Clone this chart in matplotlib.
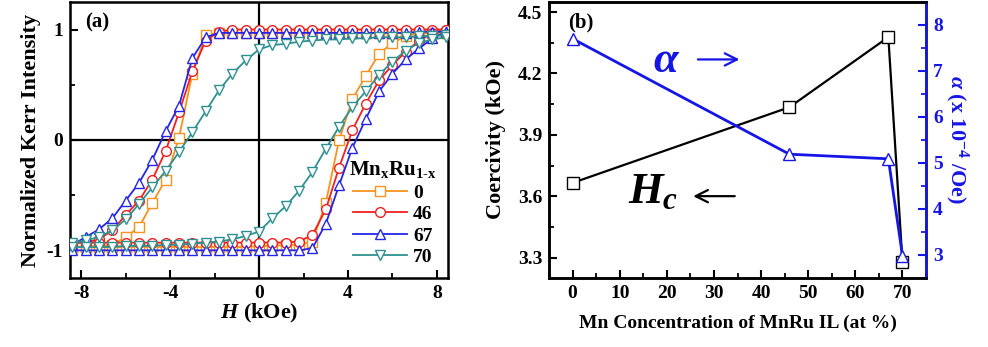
import numpy as np
import matplotlib
matplotlib.use("Agg")
import matplotlib.pyplot as plt
from matplotlib.ticker import MultipleLocator

plt.rcParams['font.family'] = ['Liberation Serif', 'DejaVu Serif']
plt.rcParams['font.weight'] = 'bold'
plt.rcParams['axes.labelweight'] = 'bold'
plt.rcParams['mathtext.fontset'] = 'custom'
plt.rcParams['mathtext.rm'] = 'Liberation Serif:bold'
plt.rcParams['mathtext.bf'] = 'Liberation Serif:bold'
plt.rcParams['mathtext.it'] = 'Liberation Serif:italic:bold'

# ---- panel (a): hysteresis loops ----
H = [-8.4, -7.8, -7.2, -6.6, -6.0, -5.4, -4.8, -4.2, -3.6, -3.0, -2.4, -1.8, -1.2, -0.6, 0.0,
     0.6, 1.2, 1.8, 2.4, 3.0, 3.6, 4.2, 4.8, 5.4, 6.0, 6.6, 7.2, 7.8, 8.4]

m0_down = [-0.97, -0.97, -0.96, -0.95, -0.88, -0.79, -0.57, -0.36, 0.02, 0.60, 0.95, 0.97, 0.97, 0.97, 0.97,
           0.97, 0.97, 0.97, 0.97, 0.97, 0.97, 0.97, 0.97, 0.97, 0.97, 0.97, 0.97, 0.97, 0.97]
m0_up = [-0.97, -0.97, -0.97, -0.97, -0.97, -0.97, -0.97, -0.97, -0.97, -0.97, -0.97, -0.97, -0.97, -0.97, -0.96,
         -0.96, -0.95, -0.95, -0.92, -0.57, 0.00, 0.37, 0.58, 0.78, 0.88, 0.94, 0.97, 0.97, 0.97]

m46_down = [-0.93, -0.93, -0.90, -0.82, -0.68, -0.55, -0.36, -0.10, 0.25, 0.62, 0.90, 0.98, 1.00, 1.00, 1.00,
            1.00, 1.00, 1.00, 1.00, 1.00, 1.00, 1.00, 1.00, 1.00, 1.00, 1.00, 1.00, 1.00, 1.00]
m46_up = [-0.93, -0.93, -0.93, -0.93, -0.93, -0.93, -0.93, -0.93, -0.93, -0.93, -0.93, -0.93, -0.93, -0.93, -0.93,
          -0.93, -0.93, -0.92, -0.86, -0.63, -0.25, 0.09, 0.33, 0.54, 0.68, 0.80, 0.90, 0.97, 1.00]

m67_down = [-0.95, -0.88, -0.81, -0.71, -0.55, -0.39, -0.18, 0.08, 0.31, 0.74, 0.93, 0.97, 0.97, 0.97, 0.97,
            0.97, 0.97, 0.97, 0.97, 0.97, 0.97, 0.97, 0.97, 0.97, 0.97, 0.97, 0.98, 0.98, 0.98]
m67_up = [-1.00, -1.00, -1.00, -1.00, -1.00, -1.00, -1.00, -1.00, -1.00, -1.00, -1.00, -1.00, -1.00, -1.00, -1.00,
          -1.00, -1.00, -1.00, -0.98, -0.76, -0.41, -0.07, 0.19, 0.44, 0.60, 0.73, 0.83, 0.92, 0.98]

m70_down = [-0.93, -0.91, -0.88, -0.82, -0.72, -0.58, -0.43, -0.28, -0.11, 0.07, 0.26, 0.45, 0.60, 0.72, 0.82,
            0.86, 0.87, 0.89, 0.90, 0.91, 0.91, 0.92, 0.92, 0.93, 0.93, 0.93, 0.94, 0.94, 0.95]
m70_up = [-0.97, -0.97, -0.97, -0.97, -0.96, -0.96, -0.96, -0.95, -0.95, -0.94, -0.93, -0.92, -0.90, -0.87, -0.83,
          -0.71, -0.60, -0.46, -0.29, -0.08, 0.12, 0.30, 0.44, 0.59, 0.71, 0.81, 0.88, 0.91, 0.93]

samples = ['0', '46', '67', '70']
loops = [(m0_down, m0_up), (m46_down, m46_up), (m67_down, m67_up), (m70_down, m70_up)]
colors = ['#F7931E', '#F02020', '#2525E8', '#2E9090']
markers = ['s', 'o', '^', 'v']

# ---- panel (b): coercivity and damping ----
mn = [0, 46, 67, 70]
hc = [3.665, 4.035, 4.378, 3.276]
alpha = [7.70, 5.19, 5.09, 2.98]

fig = plt.figure(figsize=(9.88, 3.47), dpi=100)
ax1 = fig.add_axes([0.0709, 0.199, 0.3826, 0.7954])
ax2 = fig.add_axes([0.5557, 0.199, 0.3816, 0.7954])

ax1.axhline(0, color='black', lw=1.6, zorder=1)
ax1.axvline(0, color='black', lw=1.6, zorder=1)
for name, (down, up), c, mk in zip(samples, loops, colors, markers):
    ax1.plot(H, down, color=c, marker=mk, ms=7, mfc='white', mec=c, mew=1.0, lw=1.3, label=name, zorder=3)
    ax1.plot(H, up, color=c, marker=mk, ms=7, mfc='white', mec=c, mew=1.0, lw=1.3, zorder=3)

ax1.set_xlim(-8.5, 8.5)
ax1.set_ylim(-1.25, 1.25)
ax1.set_xticks([-8, -4, 0, 4, 8])
ax1.set_xticklabels(['-8', '-4', '0', '4', '8'])
ax1.set_yticks([-1, 0, 1])
ax1.set_yticklabels(['-1', '0', '1'])
ax1.xaxis.set_minor_locator(MultipleLocator(2))
ax1.yaxis.set_minor_locator(MultipleLocator(0.5))
ax1.set_xlabel('$H$ (kOe)', fontsize=16, labelpad=0)
ax1.set_ylabel('Normalized Kerr Intensity', fontsize=16, labelpad=4)
ax1.text(0.04, 0.96, '(a)', transform=ax1.transAxes, fontsize=15, va='top', ha='left')
leg = ax1.legend(loc='lower right', frameon=False, prop={'size': 14, 'weight': 'bold'},
                 title='Mn$_\\mathrm{x}$Ru$_\\mathrm{1\u2010x}$',
                 title_fontsize=15, handlelength=2.8, labelspacing=0.2, borderaxespad=0.2,
                 handletextpad=0.3)
leg.get_title().set_fontweight('bold')

# panel b
ax2.plot(mn, hc, color='black', marker='s', ms=8, mfc='white', mec='black', mew=1.0, lw=1.6)
ax2.set_xlim(-5, 75)
ax2.set_ylim(3.2, 4.55)
ax2.set_xticks(range(0, 71, 10))
ax2.set_yticks([3.3, 3.6, 3.9, 4.2, 4.5])
ax2.xaxis.set_minor_locator(MultipleLocator(5))
ax2.yaxis.set_minor_locator(MultipleLocator(0.15))
ax2.set_xlabel('Mn Concentration of MnRu IL (at %)', fontsize=14, labelpad=9)
ax2.set_ylabel('Coercivity (kOe)', fontsize=16, labelpad=8)
ax2.text(0.05, 0.96, '(b)', transform=ax2.transAxes, fontsize=15, va='top', ha='left')
ax2.text(17, 3.62, '$H_c$', fontsize=32, ha='center', va='center')
ax2.annotate('', xy=(25, 3.60), xytext=(35, 3.60),
             arrowprops=dict(arrowstyle='->', color='black', lw=1.6, mutation_scale=22))

ax3 = ax2.twinx()
ax3.plot(mn, alpha, color='#1515E6', marker='^', ms=9, mfc='white', mec='#1515E6', mew=1.0, lw=2.0)
ax3.set_ylim(2.5, 8.5)
ax3.set_yticks([3, 4, 5, 6, 7, 8])
ax3.yaxis.set_minor_locator(MultipleLocator(0.5))
ax3.set_ylabel('$\\alpha$ (x 10$^{-4}$ /Oe)', fontsize=16, color='#1515E6', rotation=270, labelpad=20)
ax3.text(20, 7.22, '$\\alpha$', fontsize=32, color='#1515E6', ha='center', va='center')
ax3.annotate('', xy=(36, 7.25), xytext=(26, 7.25),
             arrowprops=dict(arrowstyle='->', color='#1515E6', lw=1.6, mutation_scale=22))

for ax in (ax1, ax2, ax3):
    for s in ax.spines.values():
        s.set_linewidth(1.8)
    ax.tick_params(which='major', direction='in', length=6, width=1.5, labelsize=14, pad=5)
    ax.tick_params(which='minor', direction='in', length=3.5, width=1.3)
ax3.spines['right'].set_color('#1515E6')
ax3.tick_params(axis='y', which='both', colors='#1515E6')
for lab in ax1.get_xticklabels() + ax1.get_yticklabels() + ax2.get_xticklabels() + ax2.get_yticklabels() + ax3.get_yticklabels():
    lab.set_fontweight('bold')

fig.savefig('out.png', dpi=100)
